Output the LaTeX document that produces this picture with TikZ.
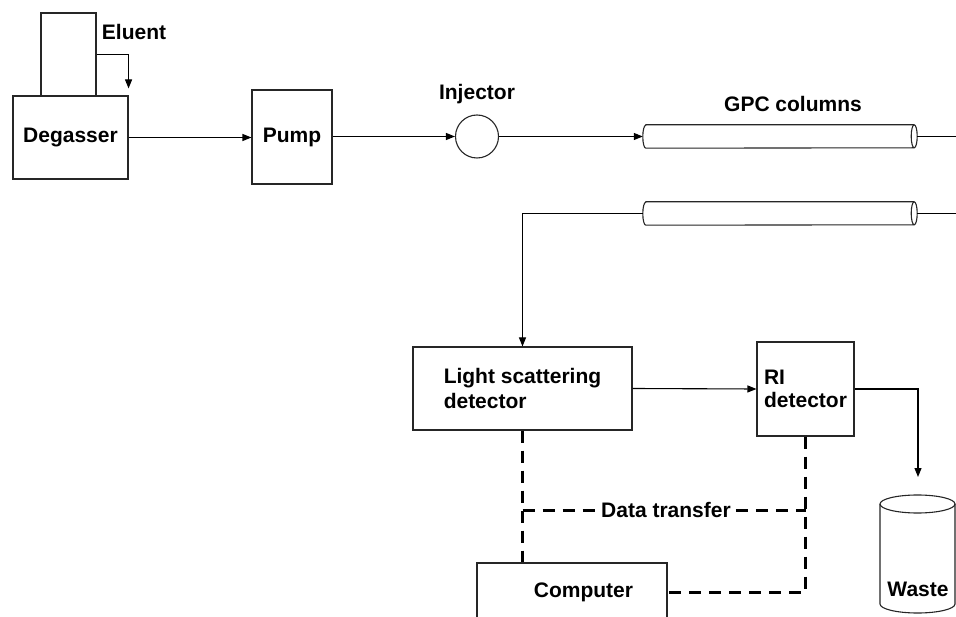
\documentclass[tikz,border=0pt]{standalone}
\usepackage{fontspec}
\setmainfont{Liberation Sans}
\usetikzlibrary{arrows.meta,calc}
\newcommand\drawgpccolumn[1]{%
  \draw[pipe, fill=white] ([xshift=3pt]#1.north west) -- ([xshift=-3pt]#1.north east)
    arc[start angle=90, end angle=-90, x radius=3pt, y radius=11.5pt]
    -- ([xshift=3pt]#1.south west)
    arc[start angle=270, end angle=90, x radius=3pt, y radius=11.5pt] -- cycle;
  \draw[pipe] ([xshift=-3pt]#1.north east)
    arc[start angle=90, end angle=270, x radius=3pt, y radius=11.5pt];
}
\begin{document}
\begin{tikzpicture}[x=1pt,y=-1pt,
  lbl/.style={font=\fontsize{21}{25}\selectfont\bfseries, inner sep=0pt},
  box/.style={lbl, draw=black!85, line width=1.1pt, fill=white},
  pipe/.style={line width=1.1pt, draw=black!85},
  flow/.style={line width=1.1pt, -{Triangle[length=9pt,width=7pt]}},
  dataline/.style={line width=3pt, dash pattern=on 12pt off 8pt},
  colnode/.style={minimum width=274pt, minimum height=23pt, inner sep=0pt},
]
\clip (0,0) rectangle (956,617);
\fill[white] (0,0) rectangle (956,617);

% nodes
\node[box, minimum width=55pt, minimum height=83pt] (eluent) at (68.5,54.5) {};
\node[lbl] (eluentlbl) at (134,32) {Eluent};
\node[box, minimum width=115pt, minimum height=83pt] (degasser) at (70.5,137.5) {Degasser};
\node[box, minimum width=80pt, minimum height=94pt] (pump) at (292,137) {Pump};
\node[circle, draw=black!85, line width=1.1pt, minimum size=43pt, inner sep=0pt] (inj) at (477,136.5) {};
\node[lbl] (injlbl) at (477,94) {Injector};
\node[colnode] (col1) at (780,136.5) {};
\node[colnode] (col2) at (780,213.5) {};
\node[lbl] (gpclbl) at (793,104) {GPC columns};
\node[box, minimum width=219pt, minimum height=83pt, align=left] (ls) at (522.5,388.5) {Light scattering\\detector};
\node[box, minimum width=97pt, minimum height=94pt, align=left, font=\fontsize{21}{23}\selectfont\bfseries] (ri) at (805.5,389) {RI\\detector};
\node[box, minimum width=190pt, minimum height=58pt] (comp) at (572,592) {};
\node[lbl] (complbl) at (583.5,592) {Computer};
\node[lbl, inner xsep=5pt, inner ysep=2pt] (dt) at (666,510) {Data transfer};
\coordinate (wastetop) at (918,495);
\coordinate (r1) at (990,136.5);
\coordinate (r2) at (990,213.5);

% columns
\drawgpccolumn{col1}
\drawgpccolumn{col2}

% waste container
\draw[pipe, fill=white] (880,504) -- (880,604)
  arc[start angle=180, end angle=360, x radius=37.5pt, y radius=9pt]
  -- (955,504)
  arc[start angle=0, end angle=180, x radius=37.5pt, y radius=9pt] -- cycle;
\draw[pipe] (880,504) arc[start angle=180, end angle=360, x radius=37.5pt, y radius=9pt];
\node[lbl] (wastelbl) at (918,589) {Waste};

% flow connectors
\draw[flow] (eluent.east) -| ([yshift=7pt]degasser.north east);
\draw[flow] (degasser.east) -- (degasser.east -| pump.west);
\draw[flow] (pump.east |- inj.west) -- (inj.west);
\draw[flow] (inj.east) -- (col1.west);
\draw[line width=1.1pt] (col1.east) -- (r1) -- (r2) -- (col2.east);
\draw[flow] (col2.west) -| (ls.north);
\draw[flow] (ls.east) -- (ri.west);
\draw[flow] (ri.east) -| ([yshift=18pt]wastetop);

% data lines
\draw[dataline] (ls.south) -- (ls.south |- comp.north);
\draw[dataline] (ri.south) -- (ri.south |- comp.east) -- (comp.east);
\draw[dataline] (dt.west -| ls.south) -- (dt.west);
\draw[dataline] (dt.east) -- (dt.east -| ri.south);
\end{tikzpicture}
\end{document}
